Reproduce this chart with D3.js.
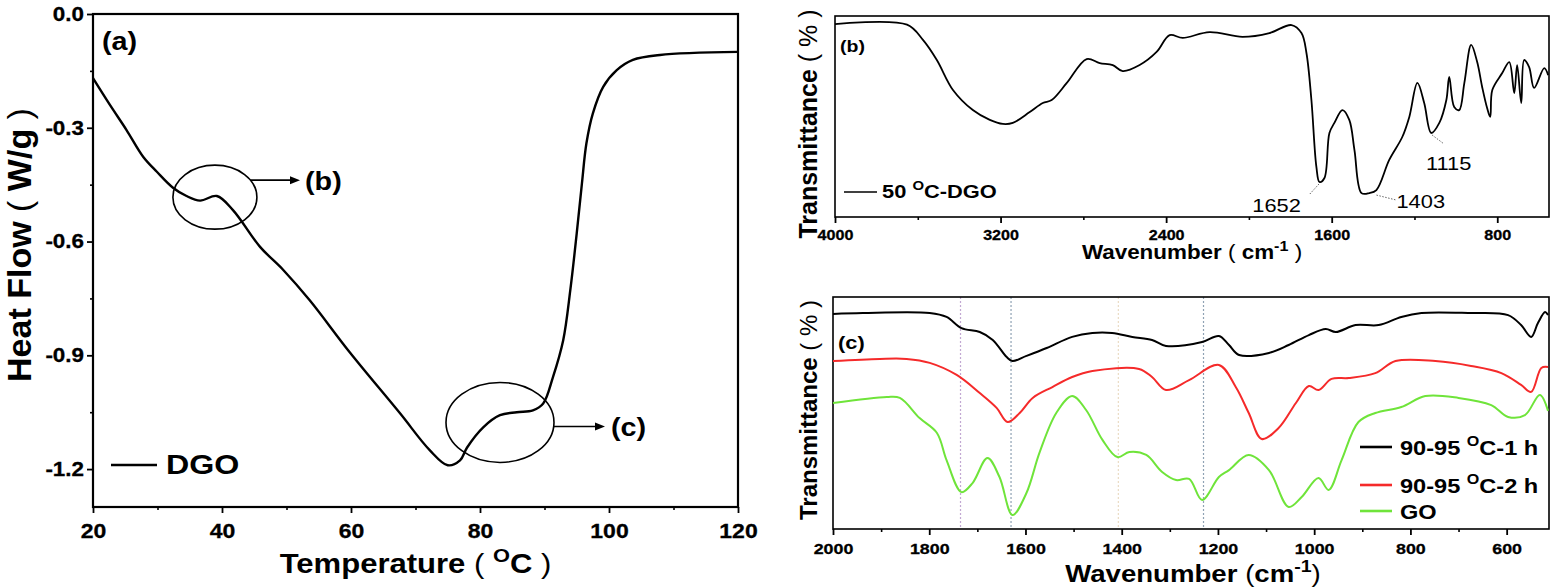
<!DOCTYPE html>
<html>
<head>
<meta charset="utf-8">
<script src="https://cdn.jsdelivr.net/npm/d3@7"></script>
<style>
body { margin:0; background:#fff; }
svg text { font-family: Arial, "Liberation Sans", Helvetica, sans-serif; }
</style>
</head>
<body>
<script>
// (a) DSC curve
var v_TempC     = [20, 22.6, 25.2, 27.8, 29.9, 32.4, 34.5, 36.6, 39.2, 41.7, 45.9, 49.5, 53.6, 59.8, 67.6, 72.2, 75.0, 76.9, 78.0, 80.5, 83.1, 85.7, 88.2, 89.8, 91.3, 92.9, 94.0, 95.0, 95.8, 96.5, 97.5, 99.1, 101.2, 103.7, 107.9, 120];
var v_HeatFlow  = [-0.169, -0.239, -0.306, -0.377, -0.416, -0.458, -0.480, -0.492, -0.48, -0.517, -0.614, -0.675, -0.755, -0.892, -1.053, -1.15, -1.19, -1.177, -1.143, -1.09, -1.058, -1.05, -1.045, -1.027, -0.958, -0.86, -0.728, -0.578, -0.447, -0.341, -0.262, -0.192, -0.148, -0.121, -0.108, -0.10];
var v_TempTicks = [20, 40, 60, 80, 100, 120];
var v_TempMinor = [30, 50, 70, 90, 110];
var v_HeatTicks = [0, -0.3, -0.6, -0.9, -1.2];
var v_HeatMinor = [-0.15, -0.45, -0.75, -1.05];
var v_Zooms     = [{name:"(b)", t:38.9, v:-0.483}, {name:"(c)", t:83.1, v:-1.077}];

// (b) FTIR 50 oC-DGO
var v_WaveB   = [4000, 3652, 3575, 3508, 3430, 3334, 3252, 3189, 3141, 3059, 2996, 2953, 2880, 2784, 2721, 2658, 2610, 2528, 2446, 2383, 2320, 2190, 2031, 1901, 1794, 1746, 1722, 1698, 1674, 1659, 1635, 1611, 1587, 1548, 1515, 1490, 1456, 1418, 1384, 1322, 1259, 1225, 1186, 1153, 1119, 1080, 1046, 1032, 1008, 984, 959, 926, 897, 873, 849, 834, 824, 776, 742, 718, 704, 684, 670, 646, 622, 573, 554];
var v_TransB  = [96.0, 95.7, 88.1, 78.1, 63.2, 53.2, 48.3, 46.3, 46.8, 52.2, 56.7, 58.2, 66.7, 78.6, 76.6, 75.6, 72.6, 75.6, 82.1, 90.5, 89.1, 92.0, 89.6, 91.5, 95.5, 91.5, 81.6, 58.2, 24.9, 17.4, 19.4, 41.8, 46.8, 53.2, 48.3, 33.3, 11.9, 11.9, 13.4, 28.4, 39.8, 49.8, 66.7, 56.7, 41.8, 46.8, 58.2, 69.7, 54.7, 53.2, 66.7, 85.6, 77.1, 64.7, 54.2, 49.8, 63.2, 71.6, 77.1, 61.7, 75.6, 56.7, 78.1, 74.6, 64.2, 74.1, 70.6];
var v_WaveTicksB = [4000, 3200, 2400, 1600, 800];
var v_WaveMinorB = [3600, 2800, 2000, 1200];
var v_PeaksB  = [1652, 1403, 1115];

// (c) FTIR comparison
var v_WaveBlack  = [2000, 1938, 1799, 1764, 1733, 1695, 1668, 1639, 1627, 1598, 1556, 1503, 1461, 1420, 1378, 1337, 1308, 1233, 1198, 1177, 1156, 1094, 1053, 1011, 976, 955, 914, 866, 819, 777, 680, 597, 570, 549, 535, 520, 514];
var v_TransBlack = [92.7, 93.1, 93.1, 91.4, 86.6, 84.9, 81.5, 74.1, 72.4, 74.6, 78.0, 82.8, 84.5, 84.5, 82.8, 81.5, 78.9, 80.6, 83.2, 79.3, 75.0, 75.9, 79.3, 83.6, 86.2, 84.9, 87.9, 87.9, 91.4, 93.1, 93.1, 92.2, 87.9, 82.8, 88.8, 93.5, 92.2];
var v_WaveRed    = [2000, 1903, 1847, 1799, 1743, 1695, 1660, 1637, 1612, 1585, 1544, 1503, 1461, 1364, 1337, 1308, 1260, 1198, 1163, 1136, 1109, 1074, 1038, 1011, 991, 964, 928, 873, 831, 748, 674, 611, 570, 549, 528, 514];
var v_TransRed   = [72.4, 73.3, 73.3, 71.6, 66.4, 58.6, 52.2, 46.1, 50.0, 56.5, 61.2, 65.5, 68.1, 69.0, 65.5, 59.9, 64.2, 70.7, 61.2, 50.0, 38.8, 43.5, 54.3, 61.6, 59.9, 64.7, 65.1, 67.2, 72.4, 72.4, 70.3, 67.2, 62.1, 59.1, 69.4, 69.8];
var v_WaveGreen  = [2000, 1888, 1861, 1820, 1784, 1764, 1733, 1710, 1679, 1654, 1627, 1598, 1571, 1536, 1503, 1474, 1440, 1409, 1384, 1349, 1316, 1287, 1260, 1233, 1198, 1177, 1136, 1094, 1053, 1026, 991, 970, 943, 908, 873, 819, 769, 700, 632, 597, 562, 531, 514];
var v_TransGreen = [54.3, 56.9, 56.5, 47.8, 41.4, 29.7, 15.9, 19.8, 30.6, 22.4, 6.0, 15.5, 32.8, 50.0, 57.3, 51.3, 38.4, 31.0, 33.2, 31.9, 24.6, 21.1, 21.6, 12.5, 22.4, 25.4, 31.9, 25.4, 9.5, 13.8, 22.0, 16.8, 29.7, 46.1, 50.0, 52.6, 57.3, 56.5, 53.4, 48.3, 49.1, 57.8, 50.9];
var v_SeriesC    = ["90-95|C-1 h", "90-95|C-2 h", "GO"];
var v_WaveTicksC = [2000, 1800, 1600, 1400, 1200, 1000, 800, 600];
var v_WaveMinorC = [1900, 1700, 1500, 1300, 1100, 900, 700];
var v_MarksC     = [1735, 1630, 1407, 1230];

var v_Colors     = ["#000000", "#f52a2a", "#6fe43a"];
var v_MarkColors = ["#c2a8d2", "#8fa2b4", "#eadcc4", "#8fa2b4"];

// 原图横排文字被横向拉宽
var v_Stretch = 1.15;

var v_SVG = d3.select("body").append("svg").attr("width", 1558).attr("height", 588);



// 文字横向拉伸（以锚点为中心）
function stretch(i_Sel)
{
    i_Sel.each(function ()
    {
        let v_E  = d3.select(this);
        let v_AX = +v_E.attr("x") || 0;
        let v_T  = v_E.attr("transform") || "";
        v_E.attr("transform", v_T + " translate(" + v_AX + ",0) scale(" + v_Stretch + ",1) translate(" + (-v_AX) + ",0)");
    });
    return i_Sel;
}



// 旋转的纵轴标题
function rotatedTitle(i_G, i_X, i_Y)
{
    return i_G.append("text")
        .attr("transform", "translate(" + i_X + "," + i_Y + ") rotate(-90)")
        .attr("text-anchor", "middle");
}



// 带上标的文字 ： parts = [[文本, 粗细, 是否上标]]
function richText(i_Text, i_Parts, i_Size)
{
    let v_Up = false;
    for (let x=0; x<i_Parts.length; x++)
    {
        let v_P  = i_Parts[x];
        let v_TS = i_Text.append("tspan").text(v_P[0]).style("font-weight", v_P[1]);
        if ( v_P[2] )
        {
            v_TS.attr("font-size", Math.round(i_Size * 0.7)).attr("dy", -0.42 * i_Size);
            v_Up = true;
        }
        else
        {
            v_TS.attr("font-size", i_Size);
            if ( v_Up )
            {
                v_TS.attr("dy", 0.42 * i_Size);
                v_Up = false;
            }
        }
    }
    return i_Text;
}



// 坐标轴（底部、左侧），主刻度+次刻度
function drawAxis(i_G, i_Axis, i_Scale, i_Pos, i_Major, i_Minor, i_Size, i_Pad, i_Fmt)
{
    let v_T  = i_Axis === "bottom" ? "translate(0," + i_Pos + ")" : "translate(" + i_Pos + ",0)";
    let v_Fn = i_Axis === "bottom" ? d3.axisBottom : d3.axisLeft;

    let v_Minor = i_G.append("g").attr("transform", v_T)
        .call(v_Fn(i_Scale).tickValues(i_Minor).tickSize(3).tickSizeOuter(0).tickFormat(""));
    v_Minor.select(".domain").remove();
    v_Minor.selectAll("line").attr("stroke-width", 1.6);

    let v_Major = i_G.append("g").attr("transform", v_T)
        .call(v_Fn(i_Scale).tickValues(i_Major).tickSize(6).tickSizeOuter(0).tickPadding(i_Pad).tickFormat(i_Fmt));
    v_Major.select(".domain").remove();
    v_Major.attr("font-family", null).attr("font-size", null);
    v_Major.selectAll("line").attr("stroke-width", 1.8);
    v_Major.selectAll("text")
        .attr("font-size", i_Size)
        .style("font-weight", "bold")
        .attr("fill", "#000")
        .attr("stroke", "#000").attr("stroke-width", 0.3);
    stretch(v_Major.selectAll("text"));
    return v_Major;
}



function drawFrame(i_G, i_X, i_Y, i_W)
{
    i_G.append("rect")
        .attr("x", i_X.range()[0]).attr("y", i_Y.range()[1])
        .attr("width",  i_X.range()[1] - i_X.range()[0])
        .attr("height", i_Y.range()[0] - i_Y.range()[1])
        .attr("fill", "none").attr("stroke", "#000").attr("stroke-width", i_W);
}



function label(i_G, i_X, i_Y, i_Size, i_Text, i_Weight)
{
    return stretch(i_G.append("text").attr("x", i_X).attr("y", i_Y)
        .attr("font-size", i_Size).style("font-weight", i_Weight || "bold").text(i_Text));
}



/**
  * (a) DSC
  */
function drawPanelA()
{
    let v_G = v_SVG.append("g");
    let v_X = d3.scaleLinear().domain([20, 120]).range([93, 738]);
    let v_Y = d3.scaleLinear().domain([-1.3, 0]).range([507, 14]);

    drawAxis(v_G, "bottom", v_X, 507, v_TempTicks, v_TempMinor, 20, 11, d3.format("d"));
    drawAxis(v_G, "left",   v_Y, 93,  v_HeatTicks, v_HeatMinor, 19.5, 3, function (d) { return Math.abs(d) < 1e-9 ? "0.0" : d.toFixed(1); });
    drawFrame(v_G, v_X, v_Y, 2.2);

    let v_Line = d3.line()
        .x(function (d) { return v_X(d[0]); })
        .y(function (d) { return v_Y(d[1]); })
        .curve(d3.curveCatmullRom.alpha(0.5));
    v_G.append("path").datum(d3.zip(v_TempC, v_HeatFlow))
        .attr("d", v_Line).attr("fill", "none").attr("stroke", "#000").attr("stroke-width", 2.4);

    // 放大区域标注
    let v_R = [[42, 32, 300, 305], [54, 40, 605, 611]];
    v_Zooms.forEach(function (d, i)
    {
        let v_CX = v_X(d.t), v_CY = v_Y(d.v);
        v_G.append("ellipse").attr("cx", v_CX).attr("cy", v_CY)
            .attr("rx", v_R[i][0]).attr("ry", v_R[i][1])
            .attr("fill", "none").attr("stroke", "#000").attr("stroke-width", 1.6);
        let v_AY = v_CY - (i === 0 ? 17 : -4);
        let v_AX = v_CX + v_R[i][0] * Math.sqrt(1 - Math.pow((v_AY - v_CY) / v_R[i][1], 2));
        v_G.append("line").attr("x1", v_AX).attr("y1", v_AY).attr("x2", v_R[i][2] - 7).attr("y2", v_AY)
            .attr("stroke", "#000").attr("stroke-width", 1.6);
        v_G.append("path")
            .attr("d", "M" + v_R[i][2] + "," + v_AY + "l-10,-4l0,8z").attr("fill", "#000");
        label(v_G, v_R[i][3], v_AY + 10, 25, d.name);
    });

    label(v_G, 102, 50, 25, "(a)");

    // 图例
    v_G.append("line").attr("x1", 111).attr("x2", 157).attr("y1", 465).attr("y2", 465)
        .attr("stroke", "#000").attr("stroke-width", 2.6);
    label(v_G, 166, 474, 28, "DGO");

    stretch(richText(v_G.append("text").attr("x", (v_X.range()[0] + v_X.range()[1]) / 2).attr("y", 573).attr("text-anchor", "middle"),
        [["Temperature ", "bold"], ["( ", "normal"], ["O", "bold", true], ["C", "bold"], [" )", "normal"]], 27));
    richText(rotatedTitle(v_G, 31, 245),
        [["Heat Flow ", "bold"], ["( ", "normal"], ["W/g", "bold"], [" )", "normal"]], 34);
}



/**
  * (b) 50 oC-DGO 红外
  */
function drawPanelB()
{
    let v_G = v_SVG.append("g");
    let v_X = d3.scaleLinear().domain([4000, 550]).range([835, 1549]);
    let v_Y = d3.scaleLinear().domain([0, 100]).range([217, 16]);

    drawAxis(v_G, "bottom", v_X, 217, v_WaveTicksB, v_WaveMinorB, 14, 7, d3.format("d"));
    drawFrame(v_G, v_X, v_Y, 1.6);

    let v_Line = d3.line()
        .x(function (d) { return v_X(d[0]); })
        .y(function (d) { return v_Y(d[1]); })
        .curve(d3.curveCatmullRom.alpha(0.5));
    v_G.append("path").datum(d3.zip(v_WaveB, v_TransB))
        .attr("d", v_Line).attr("fill", "none").attr("stroke", "#000").attr("stroke-width", 1.8);

    // 峰位标注：[引线起点dx, 引线终点dx, 引线终点dy, 文字dx, 文字dy, 对齐]
    let v_Off = [[-2, -12, 13, -20, 30, "end"], [4, 24, 7, 24, 15, "start"], [0, 12, 11, -6, 37, "start"]];
    v_PeaksB.forEach(function (d, i)
    {
        let v_I  = d3.minIndex(v_WaveB, function (w) { return Math.abs(w - d); });
        let v_PX = v_X(d), v_PY = v_Y(v_TransB[v_I]);
        let v_O  = v_Off[i];
        v_G.append("line")
            .attr("x1", v_PX + v_O[0]).attr("y1", v_PY + 2)
            .attr("x2", v_PX + v_O[1]).attr("y2", v_PY + v_O[2])
            .attr("stroke", "#666").attr("stroke-width", 1).attr("stroke-dasharray", "1.5,1.5");
        label(v_G, v_PX + v_O[3], v_PY + v_O[4], 19, d, "normal").attr("text-anchor", v_O[5]);
    });

    label(v_G, 840, 52, 17, "(b)");

    v_G.append("line").attr("x1", 844).attr("x2", 877).attr("y1", 192).attr("y2", 192)
        .attr("stroke", "#000").attr("stroke-width", 1.5);
    stretch(richText(v_G.append("text").attr("x", 882).attr("y", 198),
        [["50 ", "bold"], ["O", "bold", true], ["C-DGO", "bold"]], 19));

    stretch(richText(v_G.append("text").attr("x", 1192).attr("y", 259).attr("text-anchor", "middle"),
        [["Wavenumber ", "bold"], ["( ", "normal"], ["cm", "bold"], ["-1", "bold", true], [" )", "normal"]], 19.5));
    richText(rotatedTitle(v_G, 817, 124),
        [["Transmittance ", "bold"], ["( % )", "normal"]], 25);
}



/**
  * (c) 不同条件对比
  */
function drawPanelC()
{
    let v_G = v_SVG.append("g");
    let v_X = d3.scaleLinear().domain([2000, 512]).range([833, 1549]);
    let v_Y = d3.scaleLinear().domain([0, 100]).range([529, 297]);

    drawAxis(v_G, "bottom", v_X, 529, v_WaveTicksC, v_WaveMinorC, 15.5, 8, d3.format("d"));

    v_MarksC.forEach(function (d, i)
    {
        v_G.append("line").attr("x1", v_X(d)).attr("x2", v_X(d)).attr("y1", v_Y(100)).attr("y2", v_Y(0))
            .attr("stroke", v_MarkColors[i]).attr("stroke-width", 1.2).attr("stroke-dasharray", "2,2");
    });
    drawFrame(v_G, v_X, v_Y, 1.6);

    let v_Line = d3.line()
        .x(function (d) { return v_X(d[0]); })
        .y(function (d) { return v_Y(d[1]); })
        .curve(d3.curveCatmullRom.alpha(0.5));
    let v_Datas = [d3.zip(v_WaveBlack, v_TransBlack), d3.zip(v_WaveRed, v_TransRed), d3.zip(v_WaveGreen, v_TransGreen)];
    v_Datas.forEach(function (d, i)
    {
        v_G.append("path").datum(d).attr("d", v_Line)
            .attr("fill", "none").attr("stroke", v_Colors[i]).attr("stroke-width", 2);
    });

    label(v_G, 838, 349, 19, "(c)");

    let v_LY = [447, 485, 511];
    v_SeriesC.forEach(function (d, i)
    {
        v_G.append("line").attr("x1", 1360).attr("x2", 1392).attr("y1", v_LY[i]).attr("y2", v_LY[i])
            .attr("stroke", v_Colors[i]).attr("stroke-width", 2.6);
        let v_S = d.split("|");
        let v_Parts = v_S.length > 1 ? [[v_S[0] + " ", "bold"], ["O", "bold", true], [v_S[1], "bold"]] : [[d, "bold"]];
        stretch(richText(v_G.append("text").attr("x", 1400).attr("y", v_LY[i] + 8), v_Parts, 20.5));
    });

    stretch(richText(v_G.append("text").attr("x", 1193).attr("y", 582).attr("text-anchor", "middle"),
        [["Wavenumber ", "bold"], ["(", "normal"], ["cm", "bold"], ["-1", "bold", true], [")", "normal"]], 24));
    richText(rotatedTitle(v_G, 817, 410),
        [["Transmittance ", "bold"], ["( % )", "normal"]], 24);
}



drawPanelA();
drawPanelB();
drawPanelC();
</script>
</body>
</html>
